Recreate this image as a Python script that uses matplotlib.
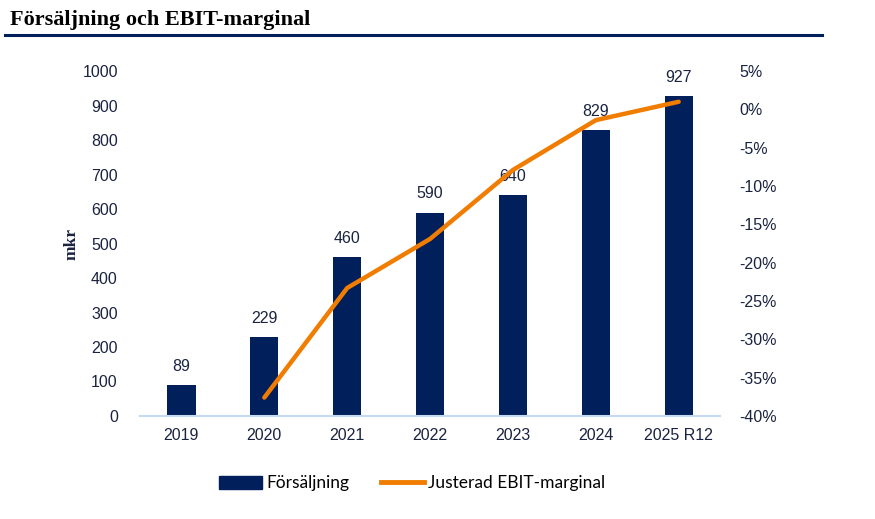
import matplotlib
matplotlib.use("Agg")
from matplotlib import pyplot as plt
from matplotlib.lines import Line2D
from matplotlib.patches import Patch
import numpy as np

years = ["2019", "2020", "2021", "2022", "2023", "2024", "2025 R12"]
sales = [89, 229, 460, 590, 640, 829, 927]
# adjusted EBIT margin in %, none for 2019
ebit_years = ["2020", "2021", "2022", "2023", "2024", "2025 R12"]
ebit_margin = [-37.6, -23.3, -16.9, -7.9, -1.4, 1.0]

navy = "#001F5B"
orange = "#F07C00"
text_col = "#1a2340"

plt.rcParams["font.family"] = ["Liberation Sans", "DejaVu Sans"]

fig = plt.figure(figsize=(8.75, 5.19), dpi=100)
ax = fig.add_axes([0.16, 0.1985, 0.663, 0.6645])

x = np.arange(len(years))
ax.bar(x, sales, width=0.34, color=navy, zorder=2)
for xi, v in zip(x, sales):
    ax.text(xi, v + 32, str(v), ha="center", va="bottom", fontsize=11.5, color=text_col)

ax.set_xlim(-0.5, len(years) - 0.5)
ax.set_ylim(0, 1000)
ax.set_yticks(range(0, 1001, 100))
ax.set_xticks(x)
ax.set_xticklabels(years)
ax.tick_params(axis="both", length=0, labelsize=11.5, colors=text_col)
ax.tick_params(axis="x", pad=9)
ax.tick_params(axis="y", pad=16)
for s in ["top", "right", "left"]:
    ax.spines[s].set_visible(False)
ax.spines["bottom"].set_color("#C5D9F1")
ax.spines["bottom"].set_linewidth(1.5)
ax.set_ylabel("mkr", fontsize=12.5, fontweight="bold", color=text_col, labelpad=2,
              family=["Liberation Serif", "DejaVu Serif"])

ax2 = ax.twinx()
ex = [years.index(y) for y in ebit_years]
ax2.plot(ex, ebit_margin, color=orange, lw=3.2, solid_capstyle="round", zorder=3)
ax2.set_ylim(-40, 5)
ax2.set_yticks(range(-40, 6, 5))
ax2.set_yticklabels([f"{t}%" for t in range(-40, 6, 5)])
ax2.tick_params(axis="y", length=0, labelsize=11.5, colors=text_col, pad=14)
for s in ["top", "right", "left", "bottom"]:
    ax2.spines[s].set_visible(False)

handles = [Patch(color=navy), Line2D([0], [0], color=orange, lw=3.5)]
fig.legend(handles, ["Försäljning", "Justerad EBIT-marginal"],
           loc="center", bbox_to_anchor=(0.471, 0.069), ncol=2, frameon=False,
           handlelength=2.5, handleheight=0.8, columnspacing=1.8,
           handletextpad=0.25, prop={"family": ["Lato", "DejaVu Sans"], "size": 12.5})

fig.text(0.012, 0.962, "Försäljning och EBIT-marginal", fontsize=16, fontweight="bold",
         family=["Liberation Serif", "DejaVu Serif"], va="center", color="black")
fig.add_artist(Line2D([0.006, 0.939], [0.933, 0.933], color=navy, lw=2.2))

fig.savefig("out.png", dpi=100, facecolor="white")
